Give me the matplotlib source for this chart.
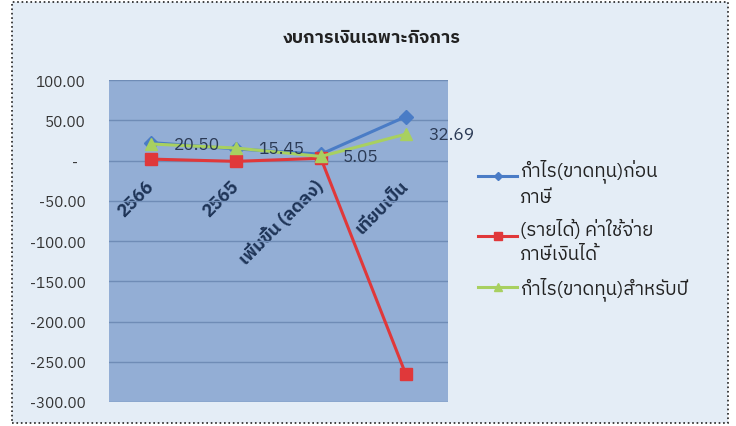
import numpy as np
import matplotlib
matplotlib.use('Agg')
import matplotlib.pyplot as plt
from matplotlib import font_manager
from matplotlib.ft2font import FT2Font
from matplotlib.patches import Rectangle
from matplotlib.legend_handler import HandlerLine2D

categories = ['2566', '2565', 'เพิ่มขึ้น (ลดลง)', 'เทียบเป็น']
before_tax = [22.23, 14.40, 7.83, 54.4]
tax_expense = [1.73, -1.05, 2.78, -265.0]
net_profit = [20.50, 15.45, 5.05, 32.69]
series_names = ['กำไร(ขาดทุน)ก่อน\nภาษี', '(รายได้) ค่าใช้จ่าย\nภาษีเงินได้', 'กำไร(ขาดทุน)สำหรับปี']
title = 'งบการเงินเฉพาะกิจการ'


def thai_family():
    # find any installed font that carries Thai glyphs
    found = []
    for f in font_manager.fontManager.ttflist:
        try:
            if 0x0E01 in FT2Font(f.fname).get_charmap():
                found.append(f.name)
        except Exception:
            pass
    for name in found:
        if 'Thai' in name:
            return name
    return found[0] if found else 'DejaVu Sans'


class FirstLineHandler(HandlerLine2D):
    # put the legend line next to the first text line of a wrapped label
    def create_artists(self, legend, orig_handle, xdescent, ydescent, width, height, fontsize, trans):
        return super().create_artists(legend, orig_handle, xdescent, ydescent - 0.65 * fontsize,
                                      width, height, fontsize, trans)


plt.rcParams['font.family'] = [thai_family(), 'DejaVu Sans']

fig = plt.figure(figsize=(7.36, 4.27), dpi=100, facecolor='white')
fig.patches.append(Rectangle((12/736, 3/427), 716/736, 421/427, transform=fig.transFigure,
                             facecolor='#E4EDF6', edgecolor='#222222', linestyle=':', lw=1.2, zorder=-1))

ax = fig.add_axes([109/736, 1 - 403/427, 339/736, 322/427])
ax.set_facecolor('#93AED5')
x = np.arange(len(categories))

l1, = ax.plot(x, before_tax, color='#4A7CC6', lw=2.2, marker='D', ms=7, label=series_names[0], zorder=3)
l2, = ax.plot(x, tax_expense, color='#E0383A', lw=2.2, marker='s', ms=9, label=series_names[1], zorder=4)
l3, = ax.plot(x, net_profit, color='#A8D060', lw=2.2, marker='^', ms=9, label=series_names[2], zorder=5)

for xi, v in zip(x, net_profit):
    ax.annotate(f'{v:.2f}', (xi, v), xytext=(16, 0), textcoords='offset points',
                va='center', ha='left', fontsize=12.5, color='#2B3A55', zorder=6)

ax.set_xlim(-0.5, len(categories) - 0.5)
ax.set_ylim(-300, 100)

# category axis crosses at zero, so move the spine first (it resets the ticks)
ax.spines['bottom'].set_position(('data', 0))
for s in ax.spines.values():
    s.set_visible(False)

ax.set_yticks(np.arange(-300, 101, 50))
ax.set_yticklabels(['-  ' if v == 0 else f'{v:.2f}' for v in np.arange(-300, 101, 50)])
ax.tick_params(axis='y', length=0, pad=17, labelsize=11, labelcolor='#333333')
ax.grid(axis='y', color='#6F8CB6', lw=1)
ax.set_axisbelow(True)

ax.set_xticks(x)
ax.set_xticklabels(categories, rotation=45, ha='right', va='center', rotation_mode='anchor',
                   fontsize=13, fontweight='bold', color='#1F3558')
ax.tick_params(axis='x', length=0, pad=16)

fig.text(0.505, 1 - 38/427, title, ha='center', va='center', fontsize=13, fontweight='bold', color='#222222')

leg = fig.legend(loc='upper left', bbox_to_anchor=(461/736, 1 - 142/427), frameon=False,
                 fontsize=13.5, handlelength=2.1, labelspacing=0.7, handletextpad=0.15,
                 markerscale=0.6, labelcolor='#222222',
                 handler_map={l1: FirstLineHandler(), l2: FirstLineHandler()})
for t in leg.get_texts():
    t.set_linespacing(1.45)

fig.savefig('out.png', dpi=100, facecolor=fig.get_facecolor())
